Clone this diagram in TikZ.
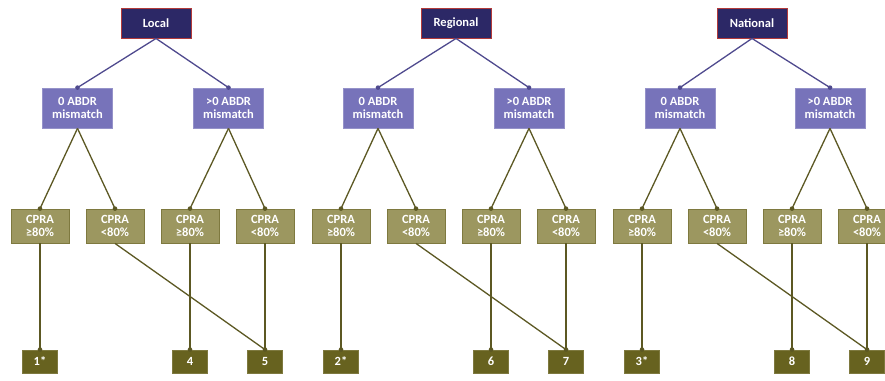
\documentclass[tikz,border=0pt]{standalone}
\usepackage{fontspec}
\setmainfont{Carlito}
\definecolor{topfill}{HTML}{2C2866}
\definecolor{topedge}{HTML}{B23A3A}
\definecolor{midfill}{HTML}{7773BA}
\definecolor{midedge}{HTML}{9592C9}
\definecolor{blueline}{HTML}{4F4A8E}
\definecolor{cprafill}{HTML}{9C9760}
\definecolor{cpraedge}{HTML}{7E793F}
\definecolor{botfill}{HTML}{67621F}
\definecolor{botedge}{HTML}{7E793F}
\definecolor{oliveline}{HTML}{5C5823}
\tikzset{
  txt/.style={text=white, font=\bfseries\fontsize{12.5}{13.5}\selectfont, align=center, inner sep=0pt},
  topbox/.style={txt, fill=topfill, draw=topedge, line width=0.9pt, minimum width=70pt, minimum height=30pt},
  midbox/.style={txt, fill=midfill, draw=midedge, line width=0.8pt, minimum width=70pt, minimum height=40pt},
  cprabox/.style={txt, fill=cprafill, draw=cpraedge, line width=0.8pt, minimum width=58pt, minimum height=34pt},
  botbox/.style={txt, fill=botfill, draw=botedge, line width=0.8pt, minimum width=35pt, minimum height=23pt},
  bl/.style={draw=blueline, line width=1.3pt},
  ol/.style={draw=oliveline, line width=1.3pt},
}
\begin{document}
\begin{tikzpicture}[x=1pt,y=-1pt]
\useasboundingbox (0,0) rectangle (885,380);
\clip (0,0) rectangle (885,380);
\foreach \g/\title/\tx/\ma/\mb/\ca/\cb/\cc/\cd/\na/\nb/\nc in {
  L/Local/156/77.5/228.5/40/115/190/265/1*/4/5,
  R/Regional/456/378/529/341/416/491/566/2*/6/7,
  N/National/752/680/830/642/717/792/867/3*/8/9}{
  \node[topbox] (\g top) at (\tx,23) {\title};
  \node[midbox] (\g m1) at (\ma,108) {0 ABDR\\mismatch};
  \node[midbox] (\g m2) at (\mb,108) {>0 ABDR\\mismatch};
  \node[cprabox] (\g c1) at (\ca,226) {CPRA\\≥80\%};
  \node[cprabox] (\g c2) at (\cb,226) {CPRA\\<80\%};
  \node[cprabox] (\g c3) at (\cc,226) {CPRA\\≥80\%};
  \node[cprabox] (\g c4) at (\cd,226) {CPRA\\<80\%};
  \node[botbox] (\g b1) at (\ca,361.5) {\na};
  \node[botbox] (\g b2) at (\cc,361.5) {\nb};
  \node[botbox] (\g b3) at (\cd,361.5) {\nc};
  \draw[bl] (\g top.south) -- (\g m1.north);
  \draw[bl] (\g top.south) -- (\g m2.north);
  \fill[blueline] (\g m1.north) circle (2.3pt);
  \fill[blueline] (\g m2.north) circle (2.3pt);
  \draw[ol] (\g m1.south) -- (\g c1.north);
  \draw[ol] (\g m1.south) -- (\g c2.north);
  \draw[ol] (\g m2.south) -- (\g c3.north);
  \draw[ol] (\g m2.south) -- (\g c4.north);
  \draw[ol] (\g c1.south) -- (\g b1.north);
  \draw[ol] (\g c2.south) -- (\g b3.north);
  \draw[ol] (\g c3.south) -- (\g b2.north);
  \draw[ol] (\g c4.south) -- (\g b3.north);
  \foreach \n in {c1,c2,c3,c4,b1,b2,b3}{\fill[oliveline] (\g\n.north) circle (2.3pt);}
}
\end{tikzpicture}
\end{document}
